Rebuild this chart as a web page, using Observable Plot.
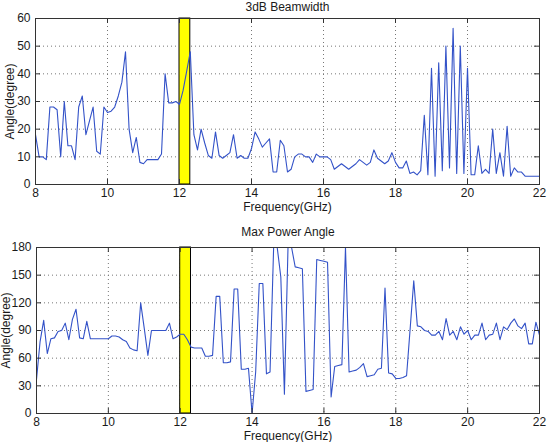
<!DOCTYPE html>
<html>
<head>
<meta charset="utf-8">
<script src="https://cdn.jsdelivr.net/npm/d3@7"></script>
<script src="https://cdn.jsdelivr.net/npm/@observablehq/plot@0.6"></script>
<style>
  body { margin: 0; background: #fff; }
  #chart { width: 549px; height: 442px; }
  #chart svg { display: block; }
</style>
</head>
<body>
<div id="chart"></div>
<script>
// Frequency sweep: 8 to 22 GHz in 0.1 GHz steps
const freqStart = 8;
const freqStep = 0.1;

// 3 dB beamwidth (degrees) at each frequency
const beamwidth = [
  18, 10, 10, 9, 28, 28, 27, 10, 30, 14,
  14, 9, 28, 32, 18, 23, 28, 12, 11, 28,
  26, 26.5, 28, 32, 37, 48, 20, 11.5, 17, 8,
  7.5, 9, 9, 9, 9, 11, 40, 29.5, 29.5, 30,
  29, 34, 41, 48, 18, 12.5, 20, 15, 10.5, 9.5,
  19, 10.5, 9.5, 10.5, 11.5, 18, 9.5, 10.5, 9.5, 9.5,
  13, 19, 16.5, 13.5, 15, 16.5, 4.5, 4.5, 16, 14,
  4.5, 5.5, 10, 11, 11, 10, 10, 8, 11, 10,
  10, 10, 9, 5.5, 6.5, 7.5, 6.5, 5.5, 6.5, 7.5,
  9, 8, 7, 8, 12.5, 9.5, 8.5, 7.5, 8.5, 11.5,
  8, 6, 6, 8.5, 4, 4.5, 3.5, 5, 25, 3.5,
  42, 3, 44, 5, 50, 6, 56.5, 4, 50, 4,
  42, 3.5, 3.5, 14, 4, 5.5, 4, 20, 4, 11.5,
  3, 21, 3, 6, 4.5, 4.5, 3, 3, 3, 3,
  3
];

// Direction of maximum power (degrees) at each frequency
const maxPowerAngle = [
  37, 78, 101, 65, 81, 82, 89, 90, 98, 80,
  102, 113, 82, 81, 100, 81, 81, 81, 81, 81,
  81, 84, 84, 83, 80, 78, 71, 69, 68, 120,
  92, 63, 90, 90, 90, 90, 90, 98, 81, 83,
  86, 86, 80, 72, 71, 71, 71, 62, 62, 63,
  127, 127, 55, 55, 56, 135, 135, 48, 48, 49,
  0, 45, 141, 141, 43, 45, 180, 180, 148, 21,
  180, 180, 159, 158, 157, 24, 25, 26, 167, 166,
  165, 164, 18, 51, 52, 53, 180, 45, 46, 47,
  50, 54, 40, 41, 42, 48, 49, 136, 44, 43,
  38, 38, 39, 41, 92, 144, 95, 94, 90, 89,
  85, 85, 89, 80, 103, 85, 89, 80, 94, 86,
  90, 80, 85, 85, 98, 80, 85, 86, 98, 80,
  94, 91, 98, 102.5, 95, 92, 98, 75.5, 75.5, 99,
  85
];

const xTicks = [8, 10, 12, 14, 16, 18, 20, 22];
const beamTicks = [0, 10, 20, 30, 40, 50, 60];
const angleTicks = [0, 30, 60, 90, 120, 150, 180];

// Highlighted operating band (GHz)
const bandStart = 12.0;
const bandEnd = 12.3;

const titles = ["3dB Beamwidth", "Max Power Angle"];
const xLabel = "Frequency(GHz)";
const yLabel = "Angle(degree)";

const freqs = beamwidth.map((_, i) => +(freqStart + i * freqStep).toFixed(1));

function panel({values, yTicks, title, marginTop, marginBottom, marginLeft, xPad, yLabelDx, xLabelDy, titleDy}) {
  const width = 549, height = 221, marginRight = 10;
  const innerW = width - marginLeft - marginRight;
  const innerH = height - marginTop - marginBottom;
  const yMax = yTicks[yTicks.length - 1];
  const data = values.map((v, i) => ({f: freqs[i], v}));
  const band = [{x1: bandStart, x2: bandEnd}];
  const ink = "#1a1a1a";
  return Plot.plot({
    width, height, marginTop, marginBottom, marginLeft, marginRight,
    style: {fontFamily: "'Liberation Sans', Arial, sans-serif", fontSize: "12px", background: "#fff", color: ink, overflow: "visible"},
    x: {domain: [8, 22]},
    y: {domain: [0, yMax]},
    marks: [
      Plot.gridX(xTicks, {stroke: "#777", strokeOpacity: 1, strokeDasharray: "1,3"}),
      Plot.gridY(yTicks, {stroke: "#777", strokeOpacity: 1, strokeDasharray: "1,3"}),
      Plot.rect(band, {x1: "x1", x2: "x2", y1: 0, y2: yMax, fill: "#ffff00", stroke: "#000", strokeWidth: 1}),
      Plot.line(data, {x: "f", y: "v", stroke: "#3352c8", strokeWidth: 1.1}),
      // inward tick marks on all four sides
      Plot.ruleX(xTicks, {insetTop: innerH - 5, stroke: "#333"}),
      Plot.ruleX(xTicks, {insetBottom: innerH - 5, stroke: "#333"}),
      Plot.ruleY(yTicks, {insetRight: innerW - 5, stroke: "#333"}),
      Plot.ruleY(yTicks, {insetLeft: innerW - 5, stroke: "#333"}),
      Plot.axisX(xTicks, {tickSize: 0, tickPadding: xPad, label: null, fontSize: 12, fill: ink}),
      Plot.axisY(yTicks, {tickSize: 0, tickPadding: 5, label: null, fontSize: 12, fill: ink}),
      Plot.frame({stroke: "#333", strokeWidth: 1}),
      Plot.text([xLabel], {frameAnchor: "bottom", textAnchor: "middle", lineAnchor: "middle", dy: xLabelDy, fontSize: 12, fill: ink}),
      Plot.text([yLabel], {frameAnchor: "left", textAnchor: "middle", lineAnchor: "middle", rotate: -90, dx: yLabelDx, fontSize: 12, fill: ink}),
      Plot.text([title], {frameAnchor: "top", textAnchor: "middle", lineAnchor: "middle", dy: titleDy, fontSize: 12, fill: ink})
    ]
  });
}

const chart = document.getElementById("chart");
chart.append(panel({
  values: beamwidth, yTicks: beamTicks, title: titles[0],
  marginTop: 18, marginBottom: 37, marginLeft: 35,
  xPad: 4, yLabelDx: -25, xLabelDy: 23, titleDy: -11
}));
chart.append(panel({
  values: maxPowerAngle, yTicks: angleTicks, title: titles[1],
  marginTop: 26, marginBottom: 29, marginLeft: 36,
  xPad: 4, yLabelDx: -30, xLabelDy: 23, titleDy: -15
}));
</script>
</body>
</html>
